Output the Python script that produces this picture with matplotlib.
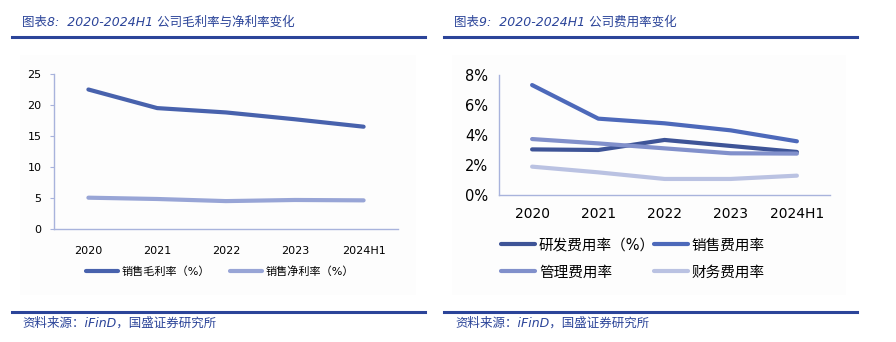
import matplotlib
matplotlib.use("Agg")
import matplotlib.pyplot as plt
from matplotlib.patches import Rectangle
from matplotlib.lines import Line2D

plt.rcParams['font.family'] = ['DejaVu Sans', 'Noto Sans CJK SC']

categories = ["2020", "2021", "2022", "2023", "2024H1"]
gross_margin = [22.5, 19.5, 18.8, 17.7, 16.5]
net_margin = [5.05, 4.84, 4.5, 4.68, 4.62]

rd_rate = [3.04, 3.0, 3.67, 3.27, 2.87]
sales_rate = [7.33, 5.09, 4.78, 4.31, 3.58]
admin_rate = [3.73, 3.44, 3.11, 2.78, 2.76]
fin_rate = [1.89, 1.51, 1.07, 1.07, 1.29]

left_title = "图表8:  2020-2024H1 公司毛利率与净利率变化"
right_title = "图表9:  2020-2024H1 公司费用率变化"
source = "资料来源：iFinD，国盛证券研究所"

W, H = 896, 342
fig = plt.figure(figsize=(W / 100, H / 100), dpi=100)
fig.patch.set_facecolor("white")

navy = "#2B4499"
spine_c = "#A8B3DC"

def fx(px):
    return px / W

def fy(py):
    return 1 - py / H

# faint panels
for x0, x1 in [(20, 416), (452, 846)]:
    fig.add_artist(Rectangle((fx(x0), fy(295)), fx(x1) - fx(x0), fy(55) - fy(295),
                             transform=fig.transFigure, facecolor="#FDFDFD",
                             edgecolor="none", zorder=-5))

# header / footer rules
for x0, x1 in [(12, 425), (444, 857)]:
    for yy in (37, 312):
        fig.add_artist(Line2D([fx(x0), fx(x1)], [fy(yy), fy(yy)], transform=fig.transFigure,
                              color=navy, lw=2.2))

fig.text(fx(22), fy(22), left_title, ha="left", va="center", fontsize=9, style="italic", color=navy)
fig.text(fx(454), fy(22), right_title, ha="left", va="center", fontsize=9, style="italic", color=navy)
fig.text(fx(22), fy(323), source, ha="left", va="center", fontsize=9, style="italic", color=navy)
fig.text(fx(455), fy(323), source, ha="left", va="center", fontsize=9, style="italic", color=navy)

x = list(range(len(categories)))

def one_legend(handle, xpx, ypx, fs, hl):
    fig.legend(handles=[handle], loc="center left", bbox_to_anchor=(fx(xpx), fy(ypx)),
               bbox_transform=fig.transFigure, frameon=False, fontsize=fs,
               handlelength=hl, handletextpad=0.3, borderpad=0, borderaxespad=0)

# Left chart
ax1 = fig.add_axes([fx(54), fy(229), fx(398) - fx(54), fy(74) - fy(229)])
ax1.set_zorder(2)
ax1.set_facecolor("none")
l1, = ax1.plot(x, gross_margin, color="#4862AD", lw=3.0, solid_capstyle="round", label="销售毛利率（%）")
l2, = ax1.plot(x, net_margin, color="#98A5D6", lw=3.0, solid_capstyle="round", label="销售净利率（%）")
ax1.set_xlim(-0.5, 4.5)
ax1.set_ylim(0, 25)
ax1.set_yticks([0, 5, 10, 15, 20, 25])
ax1.set_xticks(x)
ax1.set_xticklabels(categories)
for s in ("top", "right"):
    ax1.spines[s].set_visible(False)
for s in ("left", "bottom"):
    ax1.spines[s].set_color(spine_c)
    ax1.spines[s].set_linewidth(1.0)
ax1.tick_params(axis="y", length=3, color=spine_c, labelsize=8, pad=6)
ax1.tick_params(axis="x", length=0, labelsize=8, pad=12)
one_legend(l1, 86, 272, 8, 2.9)
one_legend(l2, 230, 272, 8, 2.9)

# Right chart
ax2 = fig.add_axes([fx(499), fy(195), fx(830) - fx(499), fy(75) - fy(195)])
ax2.set_zorder(2)
ax2.set_facecolor("none")
r1, = ax2.plot(x, rd_rate, color="#3E5497", lw=3.0, solid_capstyle="round", label="研发费用率（%）")
r2, = ax2.plot(x, sales_rate, color="#4D69BA", lw=3.0, solid_capstyle="round", label="销售费用率")
r3, = ax2.plot(x, admin_rate, color="#8190CB", lw=3.0, solid_capstyle="round", label="管理费用率")
r4, = ax2.plot(x, fin_rate, color="#BAC2E2", lw=3.0, solid_capstyle="round", label="财务费用率")
ax2.set_xlim(-0.5, 4.5)
ax2.set_ylim(0, 8)
ax2.set_yticks([0, 2, 4, 6, 8])
ax2.set_yticklabels(["0%", "2%", "4%", "6%", "8%"])
ax2.set_xticks(x)
ax2.set_xticklabels(categories)
for s in ("top", "right"):
    ax2.spines[s].set_visible(False)
for s in ("left", "bottom"):
    ax2.spines[s].set_color(spine_c)
    ax2.spines[s].set_linewidth(1.0)
ax2.tick_params(axis="y", length=0, labelsize=10.5, pad=8)
ax2.tick_params(axis="x", length=0, labelsize=10, pad=9)
one_legend(r1, 501, 245, 10.5, 2.3)
one_legend(r2, 654, 245, 10.5, 2.3)
one_legend(r3, 501, 272, 10.5, 2.3)
one_legend(r4, 654, 272, 10.5, 2.3)

fig.savefig("out.png", dpi=100)
